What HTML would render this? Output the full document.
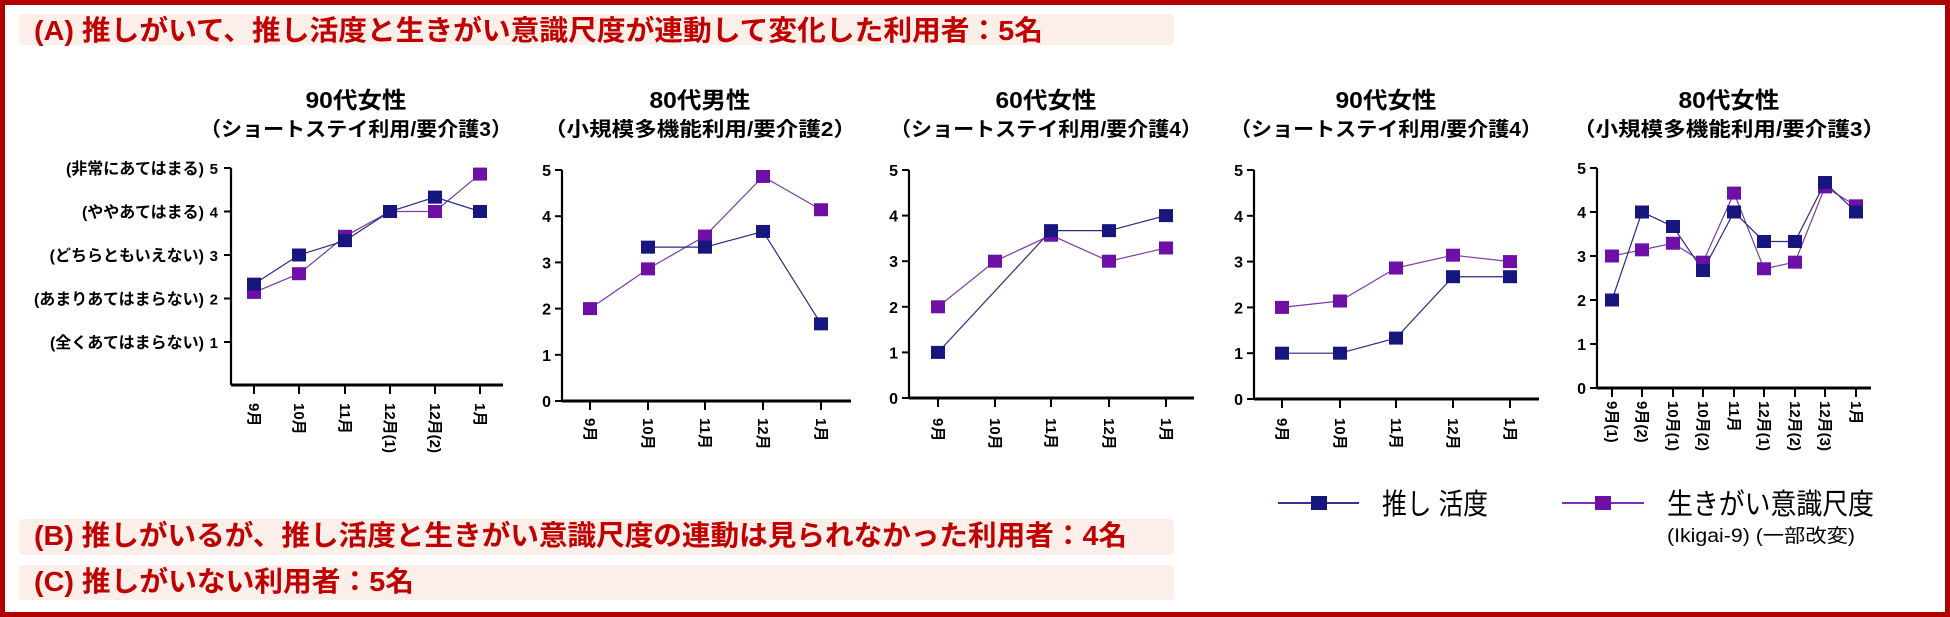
<!DOCTYPE html>
<html><head><meta charset="utf-8">
<style>
html,body{margin:0;padding:0;background:#fff;}
body{width:1950px;height:617px;overflow:hidden;position:relative;}
svg{position:absolute;left:0;top:0;}
</style></head><body>
<svg id="s" width="1950" height="617" font-family="Liberation Sans, Noto Sans CJK JP, sans-serif"></svg>
<script>
var B='#16167e',P='#6e10a8';
var h='';
h+='<rect x="2.5" y="2.5" width="1945" height="612" fill="none" stroke="#b00000" stroke-width="5"/>';
function bar(y1,y2,base,txt,w){
 h+='<rect x="19" y="'+y1+'" width="1155" height="'+(y2-y1)+'" rx="4" fill="#fcefe9"/>';
 h+='<text x="34" y="'+base+'" font-size="28" font-weight="bold" fill="#c00000" textLength="'+w+'" lengthAdjust="spacingAndGlyphs">'+txt+'</text>';
}
bar(14,45,40,'(A) 推しがいて、推し活度と生きがい意識尺度が連動して変化した利用者：5名',1009);
bar(519,555,545,'(B) 推しがいるが、推し活度と生きがい意識尺度の連動は見られなかった利用者：4名',1093);
bar(565,600,591,'(C) 推しがいない利用者：5名',380);
var charts=[
{ax:231,y0:385,y1:342,xe:503,xs:[254,299,345,390,435,480],ly:403,lab:['9月','10月','11月','12月(1)','12月(2)','1月'],t1:'90代女性',t2:'（ショートステイ利用/要介護3）',tc:356,
 b:[2.33,3,3.33,4,4.33,4],p:[2.14,2.57,3.43,4,4,4.86],ticks:[1,2,3,4,5],tl:['(全くあてはまらない)','(あまりあてはまらない)','(どちらともいえない)','(ややあてはまる)','(非常にあてはまる)']},
{ax:562,y0:401,y5:170,xe:851,xs:[590,648,705,763,821],ly:418,lab:['9月','10月','11月','12月','1月'],t1:'80代男性',t2:'（小規模多機能利用/要介護2）',tc:700,
 b:[null,3.33,3.33,3.67,1.67],p:[2,2.86,3.57,4.86,4.14]},
{ax:909,y0:398,y5:170,xe:1194,xs:[938,995,1051,1109,1166],ly:418,lab:['9月','10月','11月','12月','1月'],t1:'60代女性',t2:'（ショートステイ利用/要介護4）',tc:1046,
 b:[1,null,3.67,3.67,4],p:[2,3,3.57,3,3.29]},
{ax:1254,y0:399,y5:170,xe:1539,xs:[1282,1340,1396,1453,1510],ly:418,lab:['9月','10月','11月','12月','1月'],t1:'90代女性',t2:'（ショートステイ利用/要介護4）',tc:1386,
 b:[1,1,1.33,2.67,2.67],p:[2,2.14,2.86,3.14,3]},
{ax:1597,y0:388,y5:168,xe:1871,xs:[1612,1642,1673,1703,1734,1764,1795,1825,1856],ly:401,lab:['9月(1)','9月(2)','10月(1)','10月(2)','11月','12月(1)','12月(2)','12月(3)','1月'],t1:'80代女性',t2:'（小規模多機能利用/要介護3）',tc:1729,
 b:[2,4,3.67,2.67,4,3.33,3.33,4.67,4],p:[3,3.14,3.29,2.86,4.43,2.71,2.86,4.57,4.14]}
];
charts.forEach(function(c,i){
 var Y;
 if(c.y1!==undefined){Y=function(v){return 168+(5-v)*43.5;};}
 else Y=function(v){return c.y0-(c.y0-c.y5)*v/5;};
 h+='<text x="'+c.tc+'" y="108" font-size="23" font-weight="bold" text-anchor="middle" textLength="101" lengthAdjust="spacingAndGlyphs">'+c.t1+'</text>';
 h+='<text x="'+c.tc+'" y="136" font-size="20" font-weight="bold" text-anchor="middle" textLength="312" lengthAdjust="spacingAndGlyphs">'+c.t2+'</text>';
 var top=Y(5);
 h+='<line x1="'+c.ax+'" y1="'+top+'" x2="'+c.ax+'" y2="'+c.y0+'" stroke="#000" stroke-width="2.2"/>';
 h+='<line x1="'+c.ax+'" y1="'+c.y0+'" x2="'+c.xe+'" y2="'+c.y0+'" stroke="#000" stroke-width="3"/>';
 var tk=c.ticks||[0,1,2,3,4,5];
 tk.forEach(function(v,k){var y=Y(v);
  h+='<line x1="'+(c.ax-7)+'" y1="'+y+'" x2="'+c.ax+'" y2="'+y+'" stroke="#000" stroke-width="2"/>';
  if(c.tl){
   h+='<text x="'+(c.ax-13)+'" y="'+(y+6)+'" font-size="15" font-weight="bold" text-anchor="end">'+v+'</text>';
   h+='<text x="'+(c.ax-27)+'" y="'+(y+6)+'" font-size="16" font-weight="bold" text-anchor="end">'+c.tl[k]+'</text>';
  } else
   h+='<text x="'+(c.ax-11)+'" y="'+(y+6)+'" font-size="16" font-weight="bold" text-anchor="end">'+v+'</text>';});
 c.xs.forEach(function(x,k){
  h+='<line x1="'+x+'" y1="'+c.y0+'" x2="'+x+'" y2="'+(c.y0+9)+'" stroke="#000" stroke-width="2"/>';
  h+='<text transform="translate('+(x-5)+','+c.ly+') rotate(90)" font-size="15" font-weight="bold">'+c.lab[k]+'</text>';});
 [[c.p,P,'#7a3aa8'],[c.b,B,'#2a2a80']].forEach(function(s){
  var pts=[];s[0].forEach(function(v,k){if(v!=null)pts.push(c.xs[k]+','+Y(v));});
  h+='<polyline points="'+pts.join(' ')+'" fill="none" stroke="'+s[2]+'" stroke-width="1.2"/>';
  s[0].forEach(function(v,k){if(v!=null)h+='<rect x="'+(c.xs[k]-7)+'" y="'+(Y(v)-6.5)+'" width="14" height="13" fill="'+s[1]+'"/>';});
 });
});
h+='<line x1="1278" y1="503" x2="1359" y2="503" stroke="'+B+'" stroke-width="1.8"/><rect x="1311" y="496" width="16" height="14" fill="'+B+'"/>';
h+='<text x="1382" y="514" font-size="29" textLength="106" lengthAdjust="spacingAndGlyphs">推し 活度</text>';
h+='<line x1="1562" y1="503" x2="1644" y2="503" stroke="'+P+'" stroke-width="1.8"/><rect x="1595" y="496" width="16" height="14" fill="'+P+'"/>';
h+='<text x="1667" y="514" font-size="29" textLength="207" lengthAdjust="spacingAndGlyphs">生きがい意識尺度</text>';
h+='<text x="1667" y="542" font-size="19" textLength="188" lengthAdjust="spacingAndGlyphs">(Ikigai-9) (一部改変)</text>';
document.getElementById('s').innerHTML=h;
</script>
</body></html>
